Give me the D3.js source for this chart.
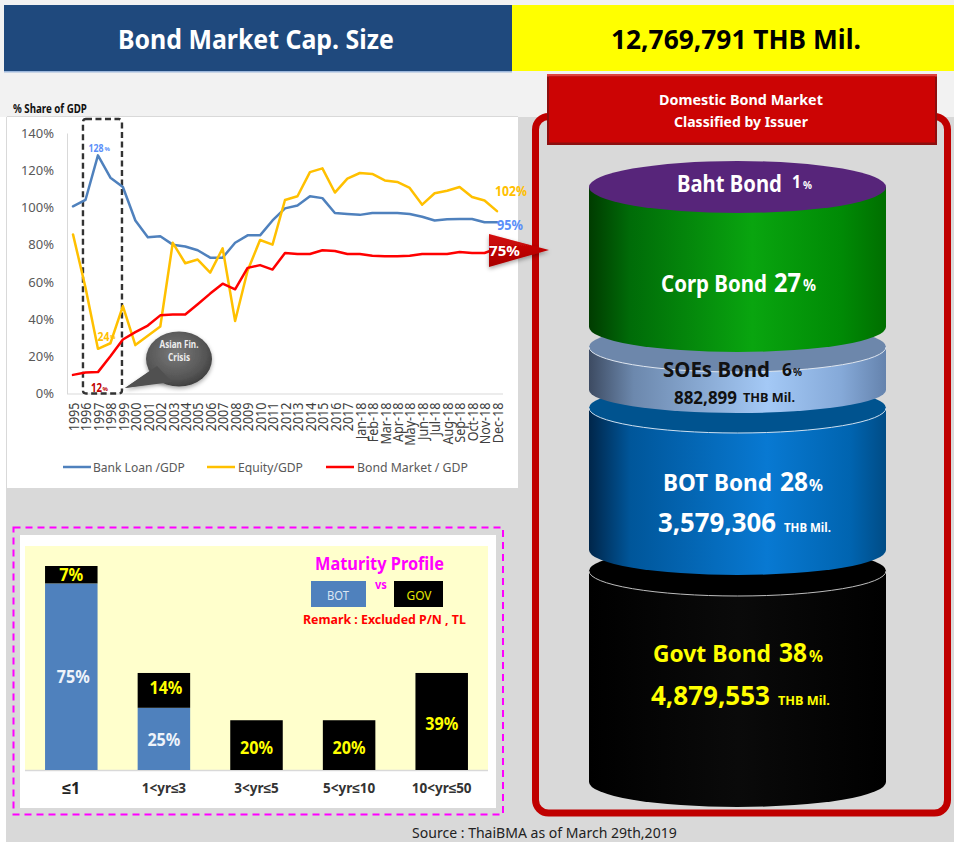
<!DOCTYPE html>
<html><head><meta charset="utf-8">
<script src="https://cdn.jsdelivr.net/npm/d3@7/dist/d3.min.js"></script>
<style>html,body{margin:0;padding:0;background:#fff}svg{display:block;font-family:"Noto Sans",sans-serif}</style>
</head><body><div id="c"></div>
<script>
// ---------- data ----------
const periods=["1995","1996","1997","1998","1999","2000","2001","2002","2003","2004","2005","2006","2007","2008","2009","2010","2011","2012","2013","2014","2015","2016","2017","Jan-18","Feb-18","Mar-18","Apr-18","May-18","Jun-18","Jul-18","Aug-18","Sep-18","Oct-18","Nov-18","Dec-18"];
const bankLoan=[100.6,104,128,116,111,93,84,84.5,80,79,77,73,73,81,85,85,93,99.5,101,106,105,97,96.5,96,97,97,97,96.5,95,93,93.6,93.8,93.8,92,92];
const equity=[85.5,57,24,27,47,26,31,36,81,70,72,65,78,39,66,82.5,80,104,106,119,121,108,115.5,118.5,118,114.5,113.7,110.5,101.5,107.6,109,111,105.6,103.7,98];
const bondMarket=[10,11.3,11.5,20,29,33,36.5,42,42.5,42.5,48,53.7,59,56,67.5,69,66.6,75.5,75,75,77,76.6,75,75,74,73.7,73.7,74,75,75,75,76,75.5,75.5,78];
const lineNames=["Bank Loan /GDP","Equity/GDP","Bond Market / GDP"];
const lineColors=["#4f81bd","#ffc000","#ff0000"];
const crisisLabels=["128","24","12"];
const endLabels=["95%","102%","75%"];
const maturityCats=["≤1","1<yr≤3","3<yr≤5","5<yr≤10","10<yr≤50"];
const maturityBOT=[75,25,0,0,0];
const maturityGOV=[7,14,20,20,39];
const issuerNames=["Baht Bond","Corp Bond","SOEs Bond","BOT Bond","Govt Bond"];
const issuerShares=[1,27,6,28,38];
const issuerAmounts=[null,null,"882,899","3,579,306","4,879,553"];

// ---------- helpers ----------
const W=954,H=842;
const svg=d3.select("#c").append("svg").attr("width",W).attr("height",H);
const defs=svg.append("defs");
function txt(p,s,x,y,size,fill,weight,anchor,len){
  const t=p.append("text").attr("x",x).attr("y",y).attr("font-size",size).attr("fill",fill)
    .attr("font-weight",weight||"normal").attr("text-anchor",anchor||"start").attr("dominant-baseline","central").text(s);
  if(len){
    const k=len/t.node().getComputedTextLength();
    t.attr("transform",`translate(${x},0) scale(${k},1) translate(${-x},0)`);
  }
  return t;
}
function hgrad(id,stops){
  const g=defs.append("linearGradient").attr("id",id);
  stops.forEach(s=>g.append("stop").attr("offset",s[0]).attr("stop-color",s[1]));
}
hgrad("gCorp",[[0,"#003c00"],[.14,"#006c08"],[.55,"#09a50f"],[.85,"#008a05"],[1,"#006f00"]]);
hgrad("gSoe",[[0,"#3d4b62"],[.15,"#6c88ad"],[.6,"#a4c9f6"],[.85,"#85a9d8"],[1,"#6583ad"]]);
hgrad("gBot",[[0,"#00264a"],[.14,"#00569a"],[.6,"#0879d2"],[.88,"#0064b0"],[1,"#004c86"]]);
hgrad("gGov",[[0,"#000"],[.5,"#0a0a0a"],[1,"#000"]]);
const rg=defs.append("radialGradient").attr("id","gCall").attr("cx",.45).attr("cy",.4).attr("r",.65);
rg.append("stop").attr("offset",0).attr("stop-color","#7a7a7a");
rg.append("stop").attr("offset",.7).attr("stop-color","#555");
rg.append("stop").attr("offset",1).attr("stop-color","#3a3a3a");
const lg=defs.append("linearGradient").attr("id","gArrow").attr("x1",0).attr("x2",0).attr("y1",0).attr("y2",1);
lg.append("stop").attr("offset",0).attr("stop-color","#d40a0a");
lg.append("stop").attr("offset",1).attr("stop-color","#a80000");
const f=defs.append("filter").attr("id","sh").attr("x","-20%").attr("y","-20%").attr("width","140%").attr("height","150%");
f.append("feDropShadow").attr("dx",0).attr("dy",2).attr("stdDeviation",2).attr("flood-color","#000").attr("flood-opacity",.35);

// ---------- page ----------
svg.append("rect").attr("width",W).attr("height",117).attr("fill","#f2f2f2");
svg.append("rect").attr("x",6).attr("y",117).attr("width",W-6).attr("height",H-117).attr("fill","#d9d9d9");
svg.append("rect").attr("x",4).attr("y",5).attr("width",508).attr("height",66).attr("fill","#1f497d");
svg.append("rect").attr("x",4).attr("y",71).attr("width",508).attr("height",1.5).attr("fill","#9db8dc");
svg.append("rect").attr("x",512).attr("y",5).attr("width",442).attr("height",66).attr("fill","#ffff00");
txt(svg,"Bond Market Cap. Size",118,39,26,"#fff","bold","start",276);
txt(svg,"12,769,791 THB Mil.",611,39,26,"#000","bold","start",250);

// ---------- line chart ----------
txt(svg,"% Share of GDP",13,108,12,"#111","bold","start",74);
svg.append("rect").attr("x",7).attr("y",117).attr("width",511).attr("height",371).attr("fill","#fff");
svg.append("line").attr("x1",7).attr("x2",518).attr("y1",116.5).attr("y2",116.5).attr("stroke","#d9d9d9");
const x=d3.scalePoint().domain(periods).range([73,497]);
const y=d3.scaleLinear().domain([0,140]).range([393.5,133]);
const yAxis=svg.append("g").attr("transform","translate(67,0)")
  .call(d3.axisLeft(y).tickValues(d3.range(0,141,20)).tickFormat(d=>d+"%").tickSize(0).tickPadding(13));
yAxis.select(".domain").attr("stroke","#d9d9d9");
yAxis.selectAll("text").attr("font-family","'Noto Sans',sans-serif").attr("font-size",13).attr("fill","#595959");
const xAxis=svg.append("g").attr("transform","translate(0,393.5)")
  .call(d3.axisBottom(x).tickSize(0).tickPadding(0));
xAxis.select(".domain").attr("d","M67,0.5H503").attr("stroke","#d9d9d9");
xAxis.selectAll("text").attr("font-family","'Noto Sans',sans-serif").attr("font-size",14).attr("fill","#404040")
  .attr("text-anchor","end").attr("dy","0").attr("dominant-baseline","central").attr("x",0).attr("y",0)
  .attr("transform","translate(0,9) rotate(-90) scale(0.9,1)");
// dashed crisis window
svg.append("rect").attr("x",x("1996")-2.5).attr("y",119).attr("width",39).attr("height",y(0)-119)
  .attr("rx",3).attr("fill","none").attr("stroke","#333").attr("stroke-width",2.4).attr("stroke-dasharray","6,3.5");
const line=d3.line().x((d,i)=>x(periods[i])).y(d=>y(d));
[bankLoan,equity,bondMarket].forEach((s,i)=>{
  svg.append("path").datum(s).attr("d",line).attr("fill","none").attr("stroke",lineColors[i])
    .attr("stroke-width",2.5).attr("stroke-linejoin","round").attr("stroke-linecap","round");
});
// callout
svg.append("path").attr("d","M125,388 L156,367 L172,381 Z").attr("fill","#555").attr("filter","url(#sh)");
svg.append("ellipse").attr("cx",179).attr("cy",359).attr("rx",33).attr("ry",27.5).attr("fill","url(#gCall)").attr("filter","url(#sh)");
svg.append("path").attr("d","M125,388 L157,366 L172,382 Z").attr("fill","#505050");
txt(svg,"Asian Fin.",179,344,10,"#eee","bold","middle",39);
txt(svg,"Crisis",179,357,10,"#eee","bold","middle",22);
// point labels
txt(svg,crisisLabels[0],88.5,148,10,"#5b8ff9","bold","start",15);
txt(svg,"%",104.5,149,6,"#5b8ff9","bold");
txt(svg,crisisLabels[1],97.5,336,11.5,"#ffc000","bold","start",12);
txt(svg,"%",110,337,6,"#ffc000","bold");
txt(svg,crisisLabels[2],91,388,11.5,"#c00000","bold","start",11);
txt(svg,"%",102.5,389,6,"#c00000","bold");
txt(svg,endLabels[1],495,191,13.5,"#ffc000","bold","start",32);
txt(svg,endLabels[0],497,225,13.5,"#5b8ff9","bold","start",26);
// legend
[[63,93,92],[207,238,65],[326,357,111]].forEach((p,i)=>{
  svg.append("line").attr("x1",p[0]).attr("x2",p[0]+28).attr("y1",467).attr("y2",467).attr("stroke",lineColors[i]).attr("stroke-width",2.5);
  txt(svg,lineNames[i],p[1],467,12.5,"#595959","normal","start",p[2]);
});

// ---------- issuer cylinders ----------
svg.append("rect").attr("x",535.5).attr("y",116.5).attr("width",412).attr("height",696.5).attr("rx",13)
  .attr("fill","none").attr("stroke","#c00000").attr("stroke-width",7);
const head=svg.append("g");
head.append("rect").attr("x",547).attr("y",74).attr("width",390).attr("height",71).attr("fill","#8c0f0f");
head.append("rect").attr("x",547).attr("y",74).attr("width",390).attr("height",2.5).attr("fill","#e04040");
head.append("rect").attr("x",549).attr("y",76.5).attr("width",386).attr("height",66).attr("fill","#cc0404");
txt(head,"Domestic Bond Market",741,99,14.5,"#fff","bold","middle",164);
txt(head,"Classified by Issuer",741,121,14.5,"#fff","bold","middle",134);

const cylH=d3.scaleLinear().domain([1,6,27,28,38]).range([0,43,140,142,211]);
const cx=737.5, rx=148.5, top0=187;
const gaps=[0,0,20,18,21];
const fills=["#57257a","url(#gCorp)","url(#gSoe)","url(#gBot)","url(#gGov)"];
const lids=["#57257a","#57257a","#6d87ab","#00538f","#000"];
const rims=[null,null,"#dfe6ef","#cfe0f0","#bdbdbd"];
let cursor=top0;
const cyl=issuerShares.map((v,i)=>{cursor+=gaps[i];const t=cursor;cursor+=cylH(v);return {t,b:cursor,i};});
const cg=svg.append("g");
cyl.filter(c=>c.i>0).reverse().forEach(c=>{
  const ry=c.i===2?23:25;
  cg.append("path").attr("d",`M${cx-rx},${c.t}V${c.b}A${rx},${ry} 0 0 0 ${cx+rx},${c.b}V${c.t}Z`).attr("fill",fills[c.i]);
  if(c.i>1){
    cg.append("ellipse").attr("cx",cx).attr("cy",c.t).attr("rx",rx).attr("ry",25).attr("fill",lids[c.i]);
    cg.append("path").attr("d",`M${cx-rx},${c.t}A${rx},25 0 0 0 ${cx+rx},${c.t}`).attr("fill","none").attr("stroke",rims[c.i]).attr("stroke-width",1);
  }
});
cg.append("ellipse").attr("cx",cx).attr("cy",top0).attr("rx",rx).attr("ry",26).attr("fill",lids[0]);

// issuer labels
txt(svg,issuerNames[0],677,183,23,"#fff","bold","start",105);
txt(svg,issuerShares[0],792,182,17,"#fff","bold","start",9);
txt(svg,"%",803,185,11,"#fff","bold","start",9);
txt(svg,issuerNames[1],661,283,23,"#fff","bold","start",106);
txt(svg,issuerShares[1],774,281,27,"#fff","bold","start",27);
txt(svg,"%",803,285,16,"#fff","bold","start",13);
txt(svg,issuerNames[2],663,369,21,"#111","bold","start",107);
txt(svg,issuerShares[2],782,370,17,"#111","bold","start",10);
txt(svg,"%",793,372,11,"#111","bold","start",9);
txt(svg,issuerAmounts[2],674,397,17,"#111","bold","start",63);
txt(svg,"THB Mil.",743,398,12,"#111","bold","start",52);
txt(svg,issuerNames[3],663,482,23,"#fff","bold","start",109);
txt(svg,issuerShares[3],780,481,26,"#fff","bold","start",28);
txt(svg,"%",809,485,16,"#fff","bold","start",14);
txt(svg,issuerAmounts[3],658,522,26,"#fff","bold","start",118);
txt(svg,"THB Mil.",784,527,13,"#fff","bold","start",47);
txt(svg,issuerNames[4],653,653,23,"#ffff00","bold","start",118);
txt(svg,issuerShares[4],779,652,26,"#ffff00","bold","start",28);
txt(svg,"%",809,656,16,"#ffff00","bold","start",14);
txt(svg,issuerAmounts[4],651,695,26,"#ffff00","bold","start",119);
txt(svg,"THB Mil.",778,700,13,"#ffff00","bold","start",52);

// arrow over box
svg.append("path").attr("d","M489,234 L549,250 L489,267 Z").attr("fill","url(#gArrow)").attr("filter","url(#sh)");
txt(svg,endLabels[2],489,250,14,"#fff","bold","start",31);

// ---------- maturity chart ----------
svg.append("rect").attr("x",13.5).attr("y",527.5).attr("width",489.5).attr("height",287)
  .attr("fill","none").attr("stroke","#ff00ff").attr("stroke-width",2).attr("stroke-dasharray","7,5");
svg.append("rect").attr("x",20).attr("y",535).attr("width",476).attr("height",273).attr("fill","#fff");
svg.append("rect").attr("x",25).attr("y",546).attr("width",463).attr("height",224).attr("fill","#ffffcc");
const bx=d3.scaleBand().domain(maturityCats).range([25,488]).paddingInner(.433).paddingOuter(.2165);
const by=d3.scaleLinear().domain([0,82]).range([770,566]);
const mx=svg.append("g").attr("transform","translate(0,770)").call(d3.axisBottom(bx).tickSize(0).tickPadding(13));
mx.select(".domain").attr("d","M25,0.5H488").attr("stroke","#d9d9d9").attr("stroke-width",1.5);
mx.selectAll("text").attr("font-family","'Noto Sans',sans-serif").attr("font-weight","bold").attr("font-size",13.5).attr("fill","#333")
  .filter(d=>d==="≤1").attr("font-size",16).attr("fill","#222");
const fmtPct=d=>d+"%";
svg.append("g").selectAll("rect").data(maturityCats).join("rect")
  .attr("x",d=>bx(d)).attr("width",bx.bandwidth())
  .attr("y",(d,i)=>by(maturityBOT[i])).attr("height",(d,i)=>by(0)-by(maturityBOT[i])).attr("fill","#4f81bd");
svg.append("g").selectAll("rect").data(maturityCats).join("rect")
  .attr("x",d=>bx(d)).attr("width",bx.bandwidth())
  .attr("y",(d,i)=>by(maturityBOT[i]+maturityGOV[i])).attr("height",(d,i)=>by(0)-by(maturityGOV[i])).attr("fill","#000");
maturityCats.forEach((c,i)=>{
  const xc=bx(c)+bx.bandwidth()/2;
  if(maturityBOT[i]) txt(svg,fmtPct(maturityBOT[i]),xc+(i===0?2:0),by(maturityBOT[i]/2),17,"#eef3fa","bold","middle",33);
  const yc=by(maturityBOT[i]+maturityGOV[i]/2)+(maturityGOV[i]>10?(i===1?-3:2):0);
  txt(svg,fmtPct(maturityGOV[i]),xc+(i===1?2:0),yc,17,"#ffff00","bold","middle",maturityGOV[i]<10?24:33);
});
txt(svg,"Maturity Profile",315,563,18,"#ff00ff","bold","start",129);
svg.append("rect").attr("x",311).attr("y",581).attr("width",55).attr("height",26).attr("fill","#4f81bd");
svg.append("rect").attr("x",394).attr("y",581).attr("width",49).attr("height",26).attr("fill","#000");
txt(svg,"BOT",338,595,12.5,"#dce6f2","normal","middle",22);
txt(svg,"GOV",419,595,12.5,"#e6e600","normal","middle",25);
txt(svg,"vs",381,584,12.5,"#ff00ff","bold","middle",12);
txt(svg,"Remark : Excluded P/N , TL",303,619,13,"#ff0000","bold","start",163);

txt(svg,"Source : ThaiBMA as of March 29th,2019",412,833,14,"#222","normal","start",265);
</script></body></html>
